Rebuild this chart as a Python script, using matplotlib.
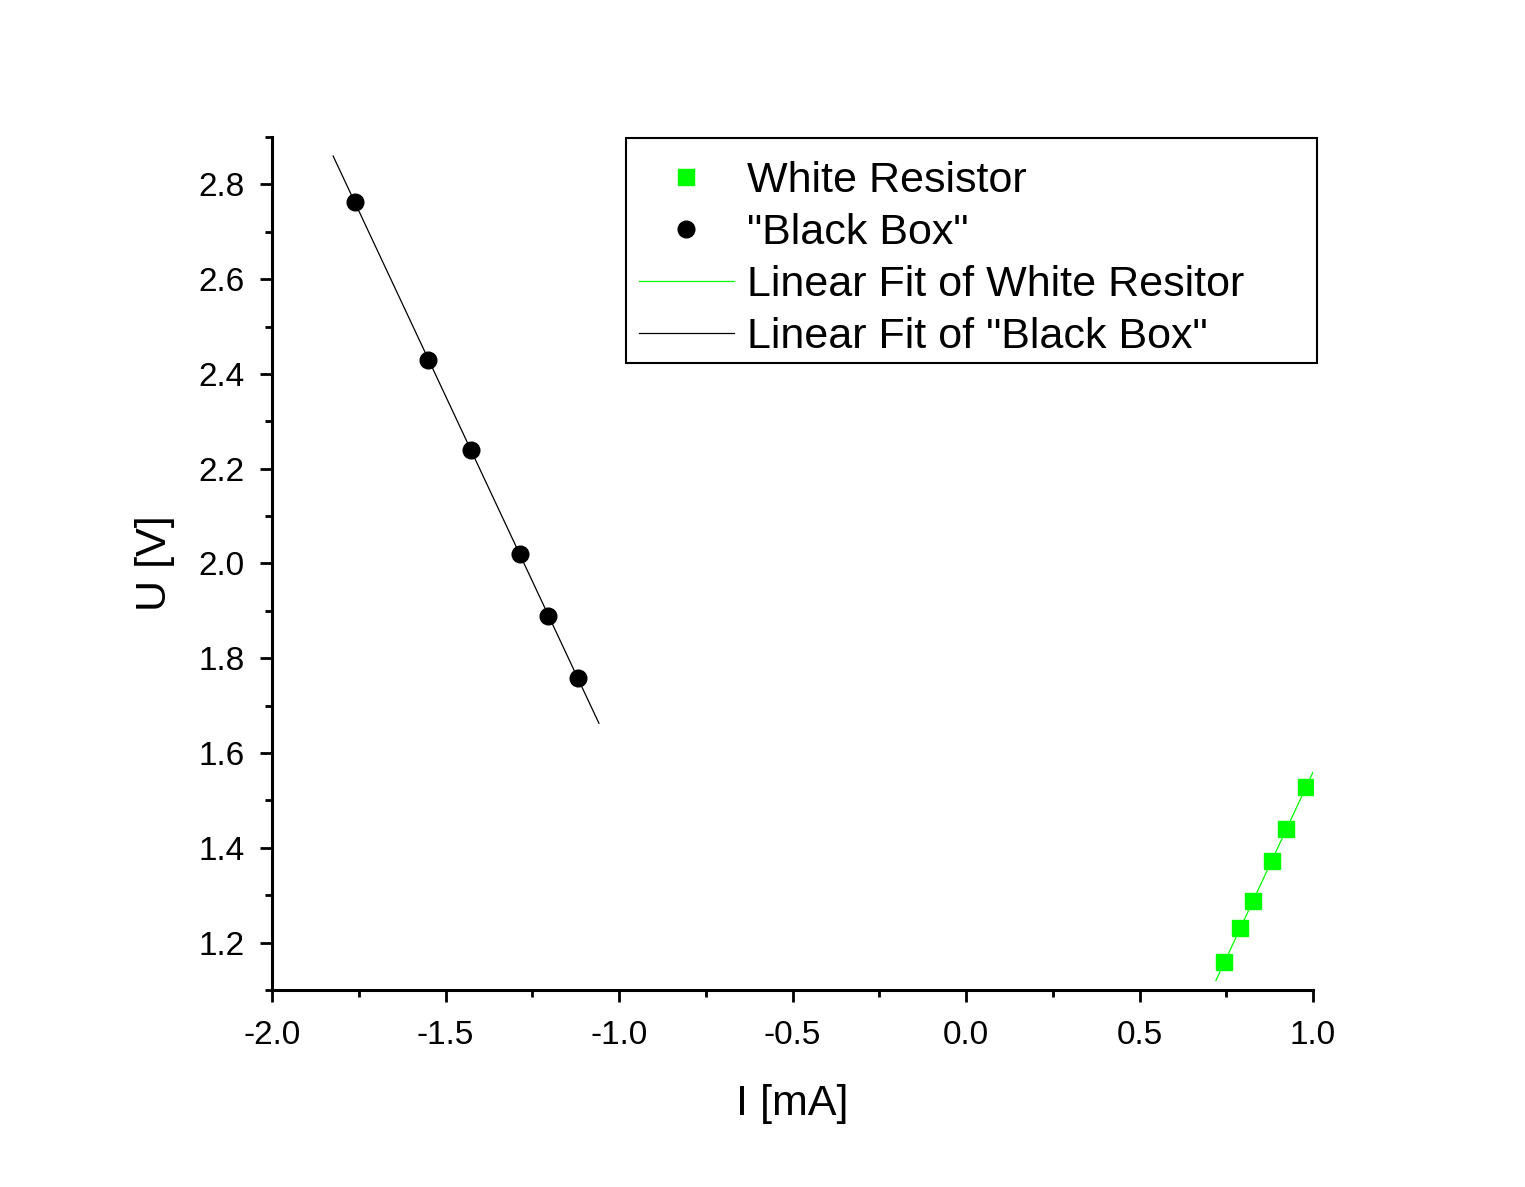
import numpy as np
import matplotlib.pyplot as plt
from matplotlib.ticker import MultipleLocator
from matplotlib.patches import Rectangle

white_I = [0.744, 0.790, 0.827, 0.882, 0.922, 0.980]
white_U = [1.158, 1.230, 1.287, 1.373, 1.439, 1.528]
black_I = [-1.761, -1.550, -1.427, -1.285, -1.205, -1.118]
black_U = [2.762, 2.430, 2.240, 2.020, 1.889, 1.758]

# x-range over which each fit line is drawn
white_fit_range = [0.720, 1.000]
black_fit_range = [-1.824, -1.058]

plt.rcParams['font.family'] = ['Liberation Sans', 'DejaVu Sans']

fig = plt.figure(figsize=(15.25, 11.87), dpi=100)
ax = fig.add_axes([0.1784, 0.166, 0.6826, 0.7186])

pw = np.polyfit(white_I, white_U, 1)
pb = np.polyfit(black_I, black_U, 1)
xw = np.array(white_fit_range)
xb = np.array(black_fit_range)

ax.plot(white_I, white_U, "s", color="#00ff00", markersize=11.5, linestyle="none", label="White Resistor", zorder=3)
ax.plot(black_I, black_U, "o", color="black", markersize=12, linestyle="none", label='"Black Box"', zorder=3)
ax.plot(xw, np.polyval(pw, xw), color="#00ff00", lw=0.9, label="Linear Fit of White Resitor")
ax.plot(xb, np.polyval(pb, xb), color="black", lw=0.9, label='Linear Fit of "Black Box"')

ax.set_xlim(-2.0, 1.0)
ax.set_ylim(1.1, 2.9)
ax.xaxis.set_major_locator(MultipleLocator(0.5))
ax.xaxis.set_minor_locator(MultipleLocator(0.25))
ax.yaxis.set_major_locator(MultipleLocator(0.2))
ax.yaxis.set_minor_locator(MultipleLocator(0.1))
ax.xaxis.set_major_formatter(plt.FuncFormatter(lambda v, p: "%.1f" % v))
ax.yaxis.set_major_formatter(plt.FuncFormatter(lambda v, p: "%.1f" % v))

ax.spines["top"].set_visible(False)
ax.spines["right"].set_visible(False)
ax.spines["left"].set_linewidth(2.2)
ax.spines["bottom"].set_linewidth(2.2)
ax.tick_params(which="major", direction="out", length=8.6, width=2, labelsize=24)
ax.tick_params(axis="y", which="major", pad=11)
ax.tick_params(axis="x", which="major", pad=13)
ax.tick_params(which="minor", direction="out", length=5, width=2)

ax.set_xlabel("I [mA]", fontsize=31, labelpad=24)
ax.set_ylabel("U [V]", fontsize=31, labelpad=17)

# legend entries without frame; the box is drawn separately like Origin does
ax.legend(loc="upper left", bbox_to_anchor=(0.340, 0.5, 0.664, 0.4866), mode="expand",
          borderaxespad=0, fontsize=31, frameon=False, handlelength=2.2,
          handletextpad=0.3, labelspacing=0.28, borderpad=0.3)
ax.add_patch(Rectangle((0.340, 0.7351), 0.664, 0.2637, transform=ax.transAxes,
                       fill=False, edgecolor="black", lw=1.5, clip_on=False, zorder=5))

fig.savefig("out.png", dpi=100)
